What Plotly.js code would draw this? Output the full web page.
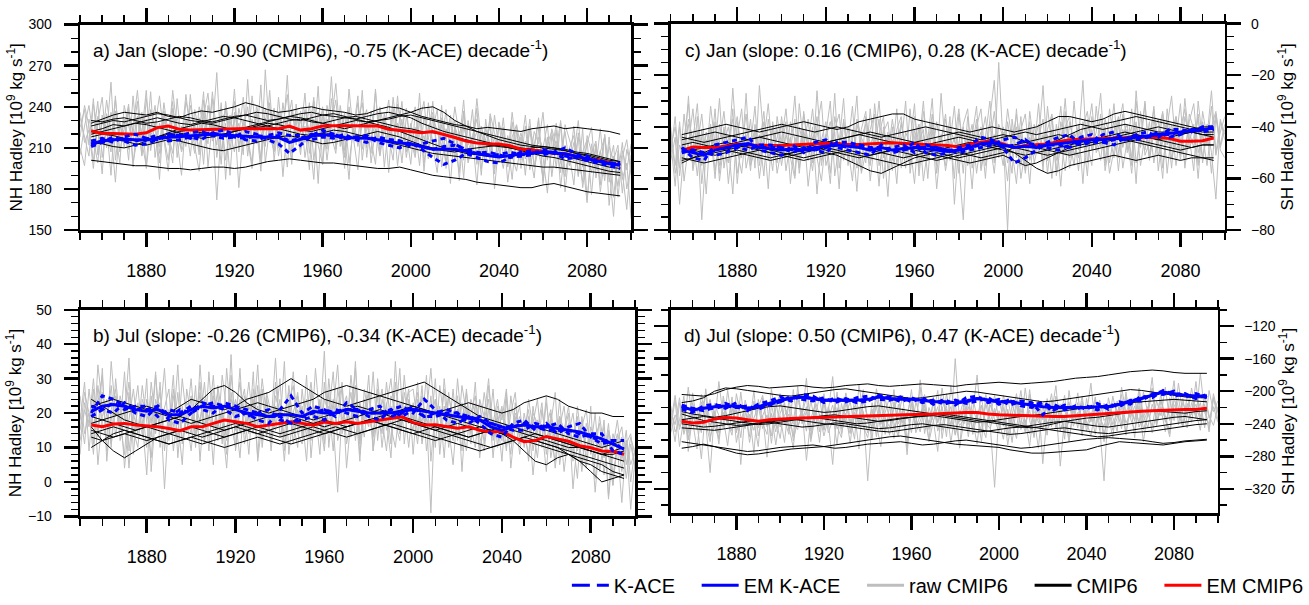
<!DOCTYPE html>
<html><head><meta charset="utf-8">
<script src="https://cdn.plot.ly/plotly-3.0.1.min.js"></script>
<style>html,body{margin:0;padding:0;background:#fff;}#chart{width:1309px;height:605px;}</style>
</head><body><div id="chart"></div>
<script>
// ---------- time axes ----------
const smoothStart = 1855, smoothStep = 5;   // 10-yr running means, 1855..2095
const rawStart = 1850, rawStep = 2;         // raw annual series (read every 2nd year), 1850..2100
const xTickLabels = [1880, 1920, 1960, 2000, 2040, 2080];

const panelTitles = [
  "a) Jan (slope: -0.90 (CMIP6), -0.75 (K-ACE) decade<sup>-1</sup>)",
  "b) Jul (slope: -0.26 (CMIP6), -0.34 (K-ACE) decade<sup>-1</sup>)",
  "c) Jan (slope: 0.16 (CMIP6), 0.28 (K-ACE) decade<sup>-1</sup>)",
  "d) Jul (slope: 0.50 (CMIP6), 0.47 (K-ACE) decade<sup>-1</sup>)"
];
const legendNames = ["K-ACE", "EM K-ACE", "raw CMIP6", "CMIP6", "EM CMIP6"];

// ---------- panel a : NH Hadley, Jan ----------
const aRaw1 = [225,238,212,246,205,230,219,258,201,227,214,240,196,233,221,252,208,229,187,236,217,244,203,226,211,
249,215,232,198,241,222,265,207,228,190,236,219,247,204,231,213,256,199,225,238,210,243,218,202,235,
221,250,206,231,184,240,216,262,209,227,195,237,223,248,201,229,214,253,205,232,192,239,220,244,207,
228,213,250,199,224,236,204,241,195,219,230,186,226,212,238,198,221,207,233,180,215,225,196,229,203,
218,190,226,209,232,184,213,222,195,228,178,210,219,189,224,172,206,215,183,220,168,201,212,177,209,195];
const aRaw2 = [210,197,231,218,244,203,226,190,237,215,229,201,248,212,235,195,224,241,206,230,218,199,246,213,227,
204,238,220,251,196,229,212,243,187,234,217,228,205,260,214,226,193,239,221,207,247,215,231,198,242,
209,226,194,244,218,233,201,228,245,211,236,199,224,213,252,203,230,217,240,196,227,209,248,214,221,
198,235,219,206,243,211,192,227,215,234,201,222,188,230,210,239,195,217,225,191,228,205,214,187,222,
201,226,194,211,230,186,218,204,223,181,212,199,226,190,207,216,176,211,197,219,185,204,190,214,180,198];
const aRaw3 = [232,219,204,242,223,191,235,211,248,207,226,242,199,219,236,214,251,203,228,216,193,239,222,209,244,
229,211,193,236,217,246,203,225,238,209,232,181,222,240,213,235,200,267,219,208,234,189,227,245,212,
237,203,224,214,255,198,231,219,206,241,218,187,233,211,227,238,199,224,210,235,218,201,242,226,213,
221,206,238,193,227,214,201,232,219,184,225,208,236,199,213,222,190,231,206,218,199,224,185,211,226,
195,215,206,188,224,203,177,219,208,230,192,205,183,221,201,170,213,194,208,186,218,174,203,192,165,205];
const aRaw4 = [218,241,226,200,233,214,245,222,185,229,210,237,221,244,205,231,212,226,248,218,201,234,215,190,231,
216,227,205,245,219,230,172,224,239,215,253,207,228,216,195,237,222,211,243,201,229,217,263,206,224,
213,232,219,187,236,223,209,246,214,229,203,240,217,194,235,222,206,251,213,228,219,236,197,224,239,
210,225,197,233,216,244,205,221,198,229,213,192,237,207,218,183,226,212,201,234,209,195,219,204,193,
214,202,224,196,209,187,217,206,228,199,189,210,200,218,181,205,192,213,178,202,196,160,208,187,199,158];
const aRaw5 = [205,226,241,217,199,234,222,207,245,218,231,209,226,252,214,197,238,225,211,243,220,206,233,217,249,
222,206,240,228,213,251,219,234,201,226,244,211,230,218,199,241,227,214,252,209,236,223,196,238,219,
230,214,243,201,226,238,212,229,257,218,204,235,221,243,209,227,216,198,239,224,211,247,219,231,203,
225,240,209,219,202,233,222,211,238,204,226,215,245,201,219,231,208,224,213,195,229,217,204,236,209,
221,205,231,196,218,210,227,189,215,206,222,197,214,203,185,219,207,196,224,190,211,201,182,208,194,213];
const aRaw6 = [236,214,223,195,229,247,210,236,221,199,241,226,215,233,204,246,219,227,199,237,212,252,224,207,219,
241,224,209,233,250,215,228,198,244,221,207,239,226,211,248,220,203,232,218,239,204,226,249,213,230,
205,238,221,247,212,198,241,225,217,232,208,253,219,230,243,210,237,222,204,226,245,212,228,199,233,
216,203,229,244,210,223,238,196,224,213,240,219,201,228,211,246,214,199,235,221,208,232,197,218,227,
210,234,199,222,213,236,201,224,212,192,227,215,205,230,196,213,225,188,207,218,197,212,174,203,216,190];

const aCmip1 = [228,231,234,236,235,234,236,233,232,235,237,236,238,240,243,241,238,236,237,239,240,238,237,236,234,235,238,240,239,236,233,231,229,227,226,224,225,224,223,222,224,225,226,224,225,224,223,222,220];
const aCmip2 = [230,229,231,232,230,228,229,231,233,232,230,229,231,233,234,232,230,231,233,235,236,234,233,232,231,233,235,236,234,232,228,225,222,220,218,216,214,212,211,210,209,208,207,205,204,202,200,199,197];
const aCmip3 = [222,224,227,226,228,230,232,230,228,227,229,231,233,232,230,228,226,228,230,231,229,228,230,232,233,231,229,227,225,224,222,221,220,218,216,214,212,211,210,209,210,211,210,208,206,205,203,201,200];
const aCmip4 = [218,220,219,217,215,216,218,220,222,223,221,219,220,222,224,226,228,227,225,223,222,224,226,228,230,229,227,225,222,219,216,213,210,208,206,205,204,203,204,205,206,207,206,204,202,200,198,196,195];
const aCmip5 = [212,214,216,215,213,212,214,216,215,213,211,209,208,210,212,214,216,218,219,217,215,213,214,216,218,220,222,220,218,215,212,210,208,207,209,210,211,212,210,208,206,204,203,201,199,197,195,193,192];
const aCmip6 = [215,213,211,210,212,215,218,221,224,226,228,227,225,223,225,227,229,231,233,232,230,228,226,224,226,228,230,231,233,234,232,230,228,226,224,222,220,218,216,214,212,211,210,209,207,206,204,202,200];
const aCmip7 = [220,222,224,226,228,227,225,223,221,219,217,218,220,222,224,225,226,224,222,220,219,221,223,222,220,218,216,214,212,210,208,206,205,204,203,202,201,200,199,198,197,196,196,195,194,193,192,191,190];
const aCmip8 = [201,200,199,198,197,197,196,195,195,194,195,196,196,195,196,198,200,201,202,201,200,199,199,198,197,196,195,195,196,194,192,190,189,188,187,185,184,183,182,181,181,183,184,182,180,178,177,176,175];
const aCmip9 = [226,228,230,229,231,233,235,234,232,230,229,228,230,232,234,236,235,233,231,230,232,234,235,233,231,229,230,232,234,236,239,240,236,230,226,222,219,216,214,212,211,210,209,208,206,204,202,200,198];
const aEmCmip = [222.4,220.5,220.5,220,220,221,224.8,226,223.6,223,223.3,223.6,224,224.3,224.2,224,224,224,226,223,224,226,226.2,226.4,226.2,226,226,223.6,222.8,222,221,222,220,217.6,215,213.5,213,212.8,211.6,209,208.5,207.6,206,205.7,203.8,202,201,199.2,197.3];
const aKace1 = [211,214,218,215,212,213,216,220,219,221,222,219,217,218,222,220,216,213,206,212,219,223,220,216,218,219,214,212,210,214,209,203,198,201,206,203,200,199,203,207,208,205,207,210,206,201,199,197,195];
const aKace2 = [215,217,214,218,220,217,219,215,216,218,216,221,223,220,216,215,219,221,219,219,216,218,217,220,216,214,218,216,215,211,213,215,217,213,208,206,207,205,203,204,205,209,206,202,203,204,200,199,198];
const aKace3 = [213,214,216,217,215,217,216,219,220,217,220,221,219,218,217,219,218,219,215,217,220,219,220,217,218,218,216,216,215,213,211,209,211,212,209,207,205,205,207,205,206,207,207,204,203,201,201,199,199];
const aEmKace = [212.8,215.2,216,216.4,216,215.7,217,217.6,218,218.8,219.5,220,219.5,218.8,218.5,218,217.8,217.6,214,216.4,218.5,220,219,217.6,217.2,217,216,214.7,213.5,212.8,211,209,209,209,207.5,205.7,204.5,203.3,204.5,205.7,206.5,206.9,206.5,205.7,204,202,200,198.5,197.3];

// ---------- panel b : NH Hadley, Jul ----------
const bRaw1 = [18,29,9,24,14,33,6,21,27,12,19,36,8,23,15,30,3,20,26,11,17,31,7,22,14,
25,10,34,16,22,5,28,19,13,37,9,21,27,14,32,6,18,24,11,29,16,35,8,20,26,
13,31,7,22,17,38,10,24,15,28,4,19,33,12,21,26,9,30,16,23,11,35,14,20,27,
8,24,17,31,6,21,13,27,10,19,25,3,22,15,29,9,18,24,7,20,12,26,4,17,22,
10,19,2,15,23,8,17,26,5,14,20,-2,12,18,6,22,1,11,16,-5,9,14,3,12,-8,7];
const bRaw2 = [12,21,16,27,5,19,24,10,30,17,8,26,13,22,18,2,25,14,29,9,21,16,34,11,19,
14,28,6,23,18,31,12,20,8,26,15,33,11,19,24,7,27,13,21,17,30,9,22,14,25,
19,6,27,14,23,11,30,17,-3,21,25,13,28,8,20,16,32,12,24,18,7,29,15,22,10,
23,14,28,9,19,24,12,30,16,5,21,18,26,11,23,7,19,14,27,10,21,16,8,23,13,
18,6,22,13,16,3,20,10,24,8,15,12,1,19,9,14,-3,13,7,17,2,10,-6,12,5,9];
const bRaw3 = [25,14,20,8,28,17,12,35,19,23,4,18,27,15,21,10,29,17,23,-2,20,14,26,12,18,
30,13,19,24,9,27,16,21,12,31,18,7,25,20,14,28,10,23,17,36,13,19,26,11,21,
16,24,12,33,18,9,26,14,21,29,11,18,23,6,27,19,14,25,10,22,30,17,12,26,19,
15,29,11,20,-9,24,18,13,26,16,21,9,27,14,18,23,11,28,15,19,6,24,13,20,16,
11,24,15,7,21,12,18,4,16,22,9,13,19,5,15,10,20,3,13,8,-1,11,6,15,0,10];
const bRaw4 = [8,23,17,30,13,26,19,11,22,16,32,9,20,14,28,18,7,24,19,33,12,25,18,5,27,
19,14,26,11,32,15,23,17,4,24,20,29,14,22,18,34,12,25,9,22,19,13,28,17,10,
27,15,21,19,13,24,20,32,12,17,23,16,35,11,24,20,13,27,18,9,25,21,14,31,17,
20,11,25,18,16,30,8,22,14,27,12,23,16,20,25,13,9,21,17,24,14,10,20,26,11,
15,21,9,18,12,25,7,14,19,10,17,6,22,11,4,16,12,8,18,-4,14,9,13,1,11,4];
const bRaw5 = [20,11,27,16,23,31,9,18,25,15,22,4,19,28,13,24,17,32,10,21,15,27,12,30,18,
9,23,17,29,13,20,26,11,33,18,24,14,21,8,27,16,30,19,12,25,20,6,23,28,15,
22,13,25,20,8,29,16,21,34,14,19,26,12,23,17,31,9,20,27,15,22,18,33,11,24,
18,26,12,20,33,15,22,7,25,18,13,28,20,16,10,24,19,30,12,17,22,9,25,15,19,
14,8,20,17,11,23,13,6,19,15,22,9,14,3,17,12,7,19,10,14,-1,12,16,5,13,8];
const bRaw6 = [15,26,20,11,34,22,16,28,13,25,19,29,15,10,24,20,13,31,16,22,27,9,20,17,23,
21,16,29,12,19,25,14,31,21,17,10,24,19,29,16,22,13,26,20,15,24,11,19,32,14,
11,20,29,17,24,14,22,9,27,19,15,31,18,22,13,26,17,21,14,29,16,10,23,19,26,
27,17,21,14,25,10,28,18,21,12,30,16,9,24,20,14,26,17,13,22,18,27,11,19,8,
20,13,17,24,10,16,21,12,18,3,14,20,9,16,21,8,13,17,2,15,10,18,7,11,14,3];

const bCmip1 = [17,18,19,20,21,22,21,20,22,24,23,22,21,22,24,25,26,28,30,28,26,24,23,22,23,24,25,24,23,22,21,20,19,18,17,16,15,14,13,12,12,11,10,9,8,7,6,5,4];
const bCmip2 = [15,14,13,14,15,16,17,18,19,21,24,27,28,26,23,21,20,21,22,23,24,26,27,28,27,26,25,26,27,28,29,27,25,23,21,19,18,17,16,15,14,13,12,11,10,9,8,8,9];
const bCmip3 = [13,12,13,14,13,12,13,14,15,16,15,14,13,14,15,16,15,14,15,16,17,18,17,16,17,18,19,20,21,22,21,20,21,22,23,22,21,20,21,23,24,25,24,22,21,20,20,19,19];
const bCmip4 = [24,22,20,18,17,16,15,14,13,12,11,12,13,14,15,14,13,12,11,12,13,14,15,16,17,18,17,16,15,14,13,12,13,14,15,16,15,14,13,12,11,10,9,8,6,5,3,2,1];
const bCmip5 = [16,12,9,7,9,11,13,14,15,14,13,14,15,16,15,14,15,16,17,16,15,14,15,16,17,18,17,16,15,14,15,16,15,14,13,14,15,14,12,9,6,5,7,8,7,6,5,3,2];
const bCmip6 = [10,12,14,15,14,13,12,11,12,13,12,11,10,11,12,13,12,11,12,13,14,15,16,15,14,15,16,17,18,17,16,15,14,13,12,11,10,11,12,13,12,11,10,8,6,3,0,1,2];
const bCmip7 = [19,18,17,16,15,16,17,18,19,18,17,16,15,16,17,18,19,20,19,18,17,16,17,18,19,20,21,20,19,18,17,16,15,14,13,14,15,16,15,14,13,12,11,10,10,9,8,9,10];
const bCmip8 = [14,15,16,15,14,13,12,11,12,13,14,15,16,17,16,15,14,13,14,15,16,15,14,13,14,15,16,17,16,15,14,13,12,11,10,9,10,11,12,13,14,13,12,11,10,9,8,7,6];
const bCmip9 = [22,23,24,23,22,21,20,19,18,17,18,19,20,21,22,23,22,21,20,19,18,19,20,21,22,21,20,19,18,17,16,15,16,17,16,15,14,15,16,17,16,15,14,13,12,11,10,11,12];
const bEmCmip = [16.5,16,16.8,17,16.5,16.3,16,15.5,14.9,16,16,17,18,17.5,17,16,16.5,17,17.5,17,16.5,17.4,17,17.5,17,17.5,18,18.5,18.9,17.2,16.5,16.6,16,15.6,16,15,14.5,14.7,13,11.7,12,13.2,12.5,11.8,10.5,9.9,9,8.9,8];
const bKace1 = [20,25,24,22,20,19,22,18,17,20,23,22,21,19,20,18,17,21,25,20,22,21,19,23,21,19,18,21,22,20,24,21,18,17,19,17,14,13,17,18,15,17,14,16,17,13,11,12,12];
const bKace2 = [22,21,23,21,22,22,19,21,20,22,21,20,23,22,19,20,21,18,17,18,19,18,21,20,19,21,22,19,20,22,19,20,21,20,17,19,17,16,15,15,17,16,17,14,13,14,14,9,8];
const bKace3 = [19,21,20,23,21,21,22,19,21,20,22,23,22,22,21,20,19,19,17,19,20,21,20,21,21,20,20,21,19,21,19,19,20,20,19,18,17,16,16,17,16,15,15,15,14,13,12,12,9];
const bEmKace = [20.5,22,22.5,22,21,20.5,21,19.5,19.5,21,22,21.5,22,21,20,19.5,19,19.5,19.5,19,20.5,20,20,21,20.5,20,20,20,20.5,21,20.5,20,19.5,19,18.5,18,16,15,16,16.5,16,16,15.5,15,14.5,13.5,12.5,11,9.5];

// ---------- panel c : SH Hadley, Jan ----------
const cRaw1 = [-42,-55,-38,-61,-47,-33,-52,-44,-66,-40,-49,-29,-56,-45,-37,-58,-48,-35,-53,-42,-60,-46,-31,-51,-44,
-39,-57,-46,-28,-53,-41,-63,-48,-36,-55,-43,-30,-59,-47,-38,-52,-45,-65,-41,-34,-54,-48,-37,-60,-44,
-50,-33,-56,-42,-47,-62,-39,-53,-45,-29,-58,-44,-51,-36,-70,-46,-40,-55,-43,-32,-57,-48,-38,-54,-15,
-47,-61,-41,-52,-36,-58,-44,-49,-31,-55,-43,-60,-39,-50,-34,-56,-45,-40,-62,-37,-48,-42,-27,-53,-44,
-38,-57,-41,-49,-33,-54,-45,-30,-52,-40,-47,-35,-58,-42,-36,-51,-29,-46,-39,-55,-34,-44,-26,-50,-38,-43];
const cRaw2 = [-50,-36,-59,-45,-31,-54,-42,-76,-48,-39,-57,-46,-34,-51,-25,-49,-58,-41,-47,-32,-55,-43,-64,-38,-50,
-45,-33,-52,-60,-40,-48,-37,-54,-26,-50,-43,-58,-41,-35,-53,-47,-32,-56,-44,-39,-61,-46,-30,-52,-42,
-57,-41,-36,-52,-46,-31,-59,-43,-49,-38,-55,-27,-48,-42,-60,-35,-51,-45,-64,-40,-33,-53,-46,-58,-39,
-44,-80,-37,-50,-42,-56,-34,-48,-45,-24,-53,-41,-57,-38,-46,-52,-30,-49,-43,-59,-36,-47,-40,-55,-33,
-46,-52,-35,-44,-58,-39,-48,-31,-53,-42,-37,-56,-40,-28,-49,-45,-54,-35,-41,-60,-38,-47,-32,-51,-42,-36];
const cRaw3 = [-46,-63,-40,-51,-28,-57,-47,-35,-53,-43,-60,-39,-48,-54,-33,-62,-44,-50,-37,-56,-24,-45,-52,-40,-58,
-48,-38,-62,-44,-51,-35,-46,-57,-40,-30,-55,-49,-42,-64,-37,-52,-45,-28,-58,-50,-41,-35,-55,-47,-67,
-40,-54,-47,-30,-58,-44,-39,-61,-48,-35,-52,-43,-57,-46,-32,-54,-76,-41,-49,-37,-56,-44,-30,-50,-45,
-55,-38,-49,-62,-41,-35,-53,-46,-39,-57,-32,-48,-44,-63,-40,-36,-51,-45,-22,-54,-41,-49,-35,-57,-46,
-31,-50,-43,-39,-55,-26,-47,-41,-52,-37,-45,-60,-33,-48,-40,-53,-36,-44,-57,-30,-46,-39,-50,-68,-37,-45];
const cRaw4 = [-53,-44,-70,-48,-39,-56,-36,-62,-45,-51,-33,-58,-41,-47,-66,-38,-52,-27,-55,-49,-43,-59,-37,-48,-54,
-36,-50,-44,-59,-31,-47,-53,-40,-66,-45,-38,-51,-27,-56,-44,-48,-61,-39,-46,-54,-33,-50,-43,-36,-57,
-45,-62,-38,-49,-55,-36,-47,-30,-53,-41,-64,-46,-37,-50,-44,-58,-39,-33,-56,-47,-42,-60,-37,-22,-52,
-40,-47,-58,-33,-55,-44,-62,-39,-50,-43,-53,-36,-59,-47,-29,-52,-42,-57,-38,-46,-55,-32,-48,-41,-58,
-49,-37,-56,-45,-40,-62,-34,-51,-46,-33,-57,-43,-38,-52,-45,-31,-56,-42,-48,-35,-54,-41,-58,-36,-49,-52];
const cRaw5 = [-48,-40,-56,-35,-51,-44,-59,-41,-53,-32,-47,-55,-40,-62,-45,-36,-50,-43,-57,-39,-48,-34,-53,-46,-41,
-55,-43,-49,-37,-58,-42,-47,-33,-52,-61,-44,-38,-50,-46,-29,-55,-41,-49,-57,-36,-47,-43,-63,-40,-51,
-37,-49,-44,-56,-33,-51,-46,-41,-60,-38,-49,-45,-35,-53,-48,-42,-58,-36,-51,-44,-40,-55,-47,-34,-50,
-42,-54,-46,-35,-49,-57,-40,-51,-44,-37,-58,-43,-48,-32,-51,-45,-55,-39,-47,-43,-31,-50,-46,-40,-54,
-43,-36,-48,-41,-52,-30,-45,-49,-38,-54,-42,-34,-47,-39,-55,-41,-33,-48,-44,-37,-52,-40,-45,-35,-48,-41];
const cRaw6 = [-40,-58,-47,-52,-37,-45,-31,-55,-42,-49,-38,-61,-46,-40,-51,-44,-33,-56,-47,-41,-52,-38,-45,-57,-36,
-47,-52,-38,-45,-56,-34,-50,-44,-41,-53,-47,-62,-36,-45,-52,-40,-54,-37,-44,-49,-55,-31,-48,-42,-38,
-53,-46,-39,-47,-52,-41,-56,-34,-45,-51,-38,-48,-55,-40,-46,-33,-50,-47,-39,-58,-45,-36,-52,-43,-48,
-51,-33,-45,-40,-60,-48,-38,-54,-46,-50,-41,-35,-53,-44,-57,-38,-46,-52,-40,-34,-49,-44,-53,-37,-43,
-52,-40,-31,-50,-45,-38,-55,-43,-47,-32,-51,-46,-39,-56,-36,-45,-49,-38,-31,-50,-43,-55,-40,-34,-47,-39];

const cCmip1 = [-43,-42,-41,-40,-39,-40,-41,-42,-41,-40,-39,-38,-39,-40,-41,-40,-38,-37,-36,-35,-35,-37,-38,-39,-40,-41,-42,-41,-40,-41,-42,-41,-40,-38,-36,-36,-37,-38,-37,-35,-34,-35,-36,-37,-38,-39,-40,-41,-41];
const cCmip2 = [-53,-52,-51,-50,-49,-48,-47,-48,-49,-50,-51,-52,-51,-50,-51,-53,-55,-57,-58,-56,-54,-52,-51,-50,-51,-52,-51,-50,-49,-48,-50,-53,-56,-58,-57,-55,-54,-53,-52,-51,-52,-53,-52,-51,-52,-53,-52,-52,-52];
const cCmip3 = [-45,-44,-43,-42,-43,-44,-45,-44,-43,-42,-43,-44,-45,-46,-45,-44,-43,-44,-45,-46,-47,-46,-45,-44,-43,-42,-43,-44,-45,-44,-43,-42,-43,-42,-41,-40,-39,-40,-41,-40,-39,-40,-41,-42,-42,-43,-42,-43,-43];
const cCmip4 = [-48,-49,-50,-51,-50,-49,-50,-51,-52,-51,-50,-49,-48,-49,-50,-51,-52,-51,-50,-49,-50,-51,-52,-53,-52,-51,-50,-49,-48,-47,-48,-49,-50,-51,-50,-49,-48,-47,-46,-45,-44,-43,-44,-45,-46,-47,-48,-47,-47];
const cCmip5 = [-52,-53,-54,-53,-52,-51,-50,-49,-50,-51,-52,-53,-52,-51,-50,-49,-50,-51,-50,-49,-48,-49,-50,-51,-52,-53,-54,-53,-52,-51,-53,-55,-54,-52,-50,-48,-47,-46,-45,-44,-45,-46,-47,-48,-49,-50,-51,-52,-53];
const cCmip6 = [-44,-45,-46,-45,-44,-43,-42,-41,-40,-39,-40,-41,-42,-41,-40,-41,-42,-43,-44,-43,-42,-41,-40,-41,-42,-43,-44,-45,-44,-43,-44,-46,-48,-47,-45,-43,-41,-40,-39,-38,-37,-36,-37,-38,-39,-40,-41,-42,-42];
const cCmip7 = [-50,-49,-48,-47,-46,-47,-48,-49,-50,-51,-50,-49,-48,-47,-46,-47,-48,-49,-50,-51,-52,-51,-50,-49,-48,-47,-46,-47,-48,-49,-50,-51,-50,-49,-48,-47,-46,-45,-44,-43,-42,-43,-44,-45,-44,-43,-42,-43,-44];
const cCmip8 = [-47,-46,-47,-48,-47,-46,-45,-44,-45,-46,-47,-48,-47,-46,-45,-44,-43,-42,-43,-44,-45,-46,-47,-46,-45,-44,-45,-46,-47,-48,-47,-46,-45,-44,-43,-44,-45,-46,-45,-44,-43,-42,-41,-40,-41,-42,-41,-40,-40];
const cCmip9 = [-54,-52,-50,-48,-49,-50,-51,-52,-53,-52,-51,-50,-49,-48,-49,-50,-51,-52,-53,-54,-55,-54,-53,-52,-51,-50,-51,-52,-51,-50,-48,-47,-48,-49,-50,-51,-50,-49,-48,-47,-46,-45,-46,-47,-48,-49,-48,-47,-47];
const cEmCmip = [-49.1,-47.8,-48,-48,-47.5,-46.6,-47,-47.2,-47.2,-47.2,-47,-46.8,-46.5,-46.3,-46.5,-46.8,-46.8,-46.5,-46.3,-46.2,-46.5,-46.6,-46.8,-47,-47.2,-47.8,-46.6,-46,-45.3,-46.6,-48,-47.2,-47,-46.6,-45.8,-45,-44.8,-44.7,-44.5,-44.3,-44.2,-44,-44,-44,-44.5,-45.6,-45.6,-45.4,-44.3];
const cKace1 = [-48,-52,-53,-47,-46,-45,-44,-49,-50,-51,-47,-50,-46,-45,-48,-49,-50,-51,-47,-50,-49,-46,-50,-51,-50,-48,-47,-44,-45,-48,-54,-52,-49,-46,-44,-43,-47,-46,-43,-42,-45,-43,-42,-44,-41,-41,-42,-40,-40];
const cKace2 = [-50,-49,-50,-51,-50,-48,-49,-47,-47,-48,-50,-48,-49,-50,-46,-46,-47,-48,-49,-48,-47,-50,-47,-48,-49,-50,-49,-48,-47,-45,-44,-46,-47,-48,-49,-47,-44,-43,-46,-47,-44,-45,-44,-42,-44,-43,-41,-42,-41];
const cKace3 = [-49,-49,-50,-49,-48,-48,-47,-48,-48,-48,-49,-49,-49,-48,-47,-48,-47,-48,-48,-49,-49,-48,-48,-48,-49,-49,-48,-47,-46,-48,-47,-45,-48,-47,-47,-48,-46,-46,-46,-45,-45,-44,-44,-43,-43,-42,-41,-41,-40];
const cEmKace = [-49,-50,-51,-49,-48,-47,-46.5,-48,-48.5,-49,-48.5,-49,-48,-47.5,-47,-47.5,-48,-49,-48,-49,-48.5,-48,-48.5,-49,-49.5,-49,-48,-46.5,-46,-47,-48,-47.5,-48,-47,-46.5,-46,-45.5,-45,-45,-44.5,-44.5,-44,-43.5,-43,-42.5,-42,-41.5,-41,-40.5];

// ---------- panel d : SH Hadley, Jul ----------
const dRaw1 = [-230,-262,-214,-248,-195,-237,-271,-222,-205,-256,-240,-188,-233,-267,-219,-251,-201,-244,-228,-276,-210,-239,-253,-197,-235,
-258,-216,-242,-270,-207,-231,-184,-249,-225,-263,-212,-238,-290,-220,-246,-203,-234,-259,-192,-228,-251,-214,-241,-268,-209,
-236,-198,-252,-223,-278,-215,-244,-186,-231,-260,-207,-239,-219,-256,-193,-233,-268,-212,-247,-226,-180,-241,-257,-210,-235,
-250,-205,-228,-263,-217,-242,-196,-236,-255,-211,-289,-230,-203,-246,-221,-259,-199,-237,-214,-251,-228,-190,-243,-219,-262,
-208,-232,-249,-195,-226,-214,-257,-201,-238,-223,-183,-241,-212,-230,-252,-197,-221,-244,-205,-229,-188,-236,-216,-250,-203,-227];
const dRaw2 = [-245,-211,-268,-233,-251,-202,-239,-283,-218,-244,-227,-259,-206,-236,-249,-214,-290,-225,-241,-199,-255,-230,-216,-264,-221,
-203,-241,-228,-256,-194,-237,-219,-262,-231,-206,-248,-225,-182,-243,-257,-213,-239,-226,-271,-208,-232,-245,-197,-229,-253,
-218,-247,-231,-205,-262,-226,-240,-195,-252,-220,-236,-274,-211,-229,-245,-160,-238,-221,-256,-207,-233,-249,-215,-242,-318,
-224,-243,-209,-237,-258,-221,-246,-204,-232,-270,-215,-240,-227,-193,-249,-230,-262,-217,-235,-206,-244,-226,-253,-211,-236,
-229,-257,-212,-240,-201,-233,-248,-218,-262,-225,-196,-239,-221,-250,-208,-236,-190,-228,-245,-214,-233,-178,-226,-241,-207,-235];
const dRaw3 = [-218,-250,-236,-206,-274,-228,-245,-213,-239,-300,-224,-251,-219,-242,-207,-263,-235,-222,-256,-212,-245,-230,-281,-216,-243,
-231,-263,-210,-239,-247,-221,-285,-234,-216,-250,-203,-242,-228,-266,-215,-238,-252,-209,-244,-225,-310,-237,-219,-248,-232,
-254,-213,-240,-226,-269,-208,-233,-250,-217,-245,-230,-199,-258,-222,-241,-212,-270,-235,-219,-246,-228,-262,-204,-237,-221,
-241,-214,-255,-229,-203,-247,-235,-268,-218,-239,-226,-254,-211,-244,-232,-205,-261,-224,-240,-215,-249,-232,-207,-243,-310,
-217,-241,-228,-204,-252,-222,-236,-211,-247,-230,-198,-243,-219,-234,-256,-209,-227,-244,-215,-238,-201,-231,-220,-247,-210,-224];
const dRaw4 = [-238,-205,-247,-226,-259,-214,-235,-251,-197,-242,-229,-265,-211,-238,-254,-203,-231,-246,-219,-237,-268,-208,-244,-227,-250,
-215,-236,-253,-198,-243,-229,-207,-258,-224,-239,-213,-251,-236,-201,-245,-227,-264,-218,-240,-212,-233,-259,-206,-241,-226,
-207,-239,-256,-221,-234,-198,-245,-228,-214,-262,-237,-219,-248,-203,-231,-253,-224,-240,-210,-236,-265,-217,-242,-229,-205,
-236,-259,-222,-245,-211,-233,-250,-198,-241,-227,-215,-248,-236,-220,-292,-231,-213,-243,-226,-255,-209,-236,-221,-248,-215,
-242,-206,-231,-220,-254,-213,-237,-196,-229,-245,-216,-233,-203,-238,-222,-187,-241,-214,-230,-196,-226,-248,-205,-233,-219,-238];
const dRaw5 = [-225,-241,-208,-253,-232,-219,-247,-204,-238,-262,-215,-229,-245,-199,-236,-223,-257,-211,-233,-248,-220,-205,-242,-228,-266,
-227,-214,-249,-236,-203,-240,-225,-258,-212,-231,-247,-219,-236,-205,-252,-228,-213,-245,-232,-198,-238,-222,-256,-210,-234,
-244,-221,-208,-239,-226,-251,-213,-232,-204,-247,-225,-238,-196,-233,-219,-254,-229,-210,-241,-223,-235,-206,-248,-217,-230,
-209,-236,-248,-217,-232,-199,-241,-223,-257,-212,-235,-220,-244,-206,-229,-250,-215,-233,-202,-247,-219,-238,-211,-226,-252,
-233,-215,-224,-246,-207,-232,-218,-239,-201,-227,-243,-212,-230,-195,-236,-219,-208,-241,-222,-204,-231,-214,-245,-199,-225,-212];
const dRaw6 = [-251,-229,-243,-216,-260,-235,-222,-248,-231,-210,-244,-257,-226,-240,-213,-249,-237,-220,-263,-233,-218,-246,-229,-255,-212,
-244,-230,-218,-261,-236,-223,-249,-211,-240,-228,-255,-234,-217,-246,-239,-202,-250,-231,-219,-243,-257,-225,-236,-214,-247,
-232,-258,-216,-244,-229,-207,-251,-236,-222,-240,-213,-249,-231,-218,-263,-226,-242,-235,-209,-253,-230,-217,-239,-246,-224,
-237,-220,-266,-231,-244,-213,-239,-252,-225,-233,-247,-209,-240,-228,-216,-251,-236,-222,-245,-212,-238,-255,-221,-234,-243,
-221,-248,-233,-213,-239,-228,-208,-244,-231,-219,-251,-226,-211,-236,-247,-222,-233,-209,-240,-226,-216,-237,-205,-230,-242,-219];

const dCmip1 = [-204,-205,-206,-203,-198,-195,-193,-194,-196,-195,-194,-193,-195,-196,-195,-193,-192,-191,-193,-194,-193,-192,-191,-192,-193,-194,-192,-191,-190,-189,-190,-191,-190,-189,-188,-186,-184,-183,-182,-180,-178,-176,-175,-174,-175,-177,-178,-178,-178];
const dCmip2 = [-214,-212,-208,-200,-196,-197,-199,-201,-203,-205,-206,-204,-202,-200,-198,-197,-199,-201,-203,-205,-207,-209,-208,-206,-204,-202,-200,-201,-203,-205,-207,-209,-211,-213,-212,-210,-208,-206,-204,-202,-200,-198,-199,-201,-203,-205,-207,-208,-208];
const dCmip3 = [-225,-228,-230,-232,-230,-227,-224,-221,-219,-218,-220,-222,-224,-226,-225,-223,-221,-219,-218,-220,-222,-224,-226,-228,-230,-232,-234,-236,-238,-240,-242,-244,-245,-243,-240,-237,-235,-233,-232,-230,-228,-226,-225,-224,-225,-226,-227,-225,-224];
const dCmip4 = [-240,-242,-244,-243,-241,-239,-237,-236,-238,-240,-242,-244,-243,-241,-239,-240,-242,-244,-246,-245,-243,-241,-240,-242,-244,-246,-248,-250,-249,-247,-245,-244,-242,-240,-238,-237,-239,-241,-243,-244,-242,-240,-238,-236,-234,-232,-231,-233,-235];
const dCmip5 = [-235,-233,-231,-233,-235,-237,-239,-241,-240,-238,-236,-234,-232,-230,-229,-231,-233,-235,-237,-236,-234,-232,-230,-229,-228,-230,-232,-234,-236,-238,-240,-242,-244,-246,-248,-250,-252,-254,-256,-255,-253,-251,-250,-249,-247,-245,-243,-241,-240];
const dCmip6 = [-270,-268,-265,-268,-272,-276,-278,-277,-275,-273,-271,-270,-269,-268,-266,-264,-262,-260,-258,-256,-255,-257,-259,-261,-263,-265,-266,-267,-268,-269,-272,-274,-276,-276,-275,-274,-273,-272,-268,-265,-262,-263,-264,-265,-266,-264,-262,-261,-260];
const dCmip7 = [-262,-264,-266,-268,-270,-272,-274,-273,-271,-269,-268,-267,-266,-268,-270,-269,-267,-265,-264,-263,-262,-264,-266,-265,-263,-261,-260,-262,-264,-266,-268,-270,-269,-267,-265,-263,-261,-259,-258,-257,-258,-259,-260,-262,-264,-263,-261,-260,-259];
const dCmip8 = [-245,-246,-247,-248,-246,-244,-242,-240,-238,-236,-235,-233,-232,-234,-236,-238,-240,-239,-237,-235,-233,-232,-231,-230,-232,-234,-236,-238,-237,-235,-233,-231,-230,-228,-226,-224,-222,-220,-219,-218,-216,-214,-213,-212,-211,-210,-211,-212,-213];
const dCmip9 = [-228,-232,-236,-238,-240,-242,-241,-239,-237,-235,-234,-236,-238,-240,-241,-243,-245,-247,-249,-250,-248,-246,-244,-242,-241,-243,-245,-247,-249,-251,-253,-252,-250,-248,-246,-245,-247,-249,-251,-252,-250,-248,-246,-244,-242,-240,-238,-236,-235];
const dEmCmip = [-237,-239,-238,-234,-232.4,-233,-235,-237,-235,-234,-233.5,-233,-232.5,-232,-231.5,-231,-230.8,-230.4,-229.7,-229,-228.7,-228.4,-228.2,-228,-227.2,-226.4,-226.2,-226,-228,-229,-229.5,-230,-230.5,-231,-231,-231,-230,-229,-228,-227,-226,-225,-224.5,-224,-223.2,-222.4,-222.4,-222.4,-221];
const dKace1 = [-222,-226,-218,-216,-221,-214,-224,-216,-212,-207,-212,-204,-206,-214,-208,-213,-208,-206,-210,-211,-207,-213,-208,-216,-210,-217,-208,-206,-214,-210,-217,-212,-214,-229,-216,-223,-218,-222,-215,-222,-213,-216,-206,-208,-199,-206,-203,-209,-204];
const dKace2 = [-217,-221,-224,-220,-215,-220,-218,-222,-217,-213,-206,-210,-212,-208,-214,-209,-214,-212,-205,-207,-213,-208,-214,-211,-216,-211,-215,-212,-208,-216,-210,-218,-220,-214,-223,-217,-222,-218,-223,-216,-219,-211,-212,-203,-204,-200,-207,-203,-208];
const dKace3 = [-219,-222,-221,-221,-218,-220,-221,-219,-216,-213,-209,-207,-209,-211,-211,-211,-211,-212,-206,-209,-210,-209,-211,-212,-213,-214,-213,-209,-211,-213,-212,-215,-217,-214,-221,-220,-220,-220,-219,-219,-216,-212,-209,-204,-200,-203,-205,-206,-206];
const dEmKace = [-219,-223,-221,-219,-218,-218,-221,-219,-215,-211,-209,-207,-209,-211,-211,-211,-211,-210,-207,-209,-210,-210,-211,-213,-213,-214,-212,-209,-211,-213,-213,-215,-217,-219,-220,-220,-220,-220,-219,-219,-216,-213,-209,-205,-201,-203,-205,-206,-206];

// ---------- build ----------
const FONT = "Liberation Sans, Arial, Helvetica, sans-serif";
const GRAY = "#bebebe", BLUE = "#0000ff", RED = "#ff0000";
function years(arr, start, step) { return arr.map((_, i) => start + step * i); }

const panels = [
  {raw:[aRaw1,aRaw2,aRaw3,aRaw4,aRaw5,aRaw6], cmip:[aCmip1,aCmip2,aCmip3,aCmip4,aCmip5,aCmip6,aCmip7,aCmip8,aCmip9], em:aEmCmip, kace:[aKace1,aKace2,aKace3], emk:aEmKace, xa:"x", ya:"y"},
  {raw:[bRaw1,bRaw2,bRaw3,bRaw4,bRaw5,bRaw6], cmip:[bCmip1,bCmip2,bCmip3,bCmip4,bCmip5,bCmip6,bCmip7,bCmip8,bCmip9], em:bEmCmip, kace:[bKace1,bKace2,bKace3], emk:bEmKace, xa:"x2", ya:"y2"},
  {raw:[cRaw1,cRaw2,cRaw3,cRaw4,cRaw5,cRaw6], cmip:[cCmip1,cCmip2,cCmip3,cCmip4,cCmip5,cCmip6,cCmip7,cCmip8,cCmip9], em:cEmCmip, kace:[cKace1,cKace2,cKace3], emk:cEmKace, xa:"x3", ya:"y3"},
  {raw:[dRaw1,dRaw2,dRaw3,dRaw4,dRaw5,dRaw6], cmip:[dCmip1,dCmip2,dCmip3,dCmip4,dCmip5,dCmip6,dCmip7,dCmip8,dCmip9], em:dEmCmip, kace:[dKace1,dKace2,dKace3], emk:dEmKace, xa:"x4", ya:"y4"}
];

const traces = [];
panels.forEach(p => {
  const base = {type:"scatter", mode:"lines", xaxis:p.xa, yaxis:p.ya, showlegend:false, hoverinfo:"skip"};
  p.raw.forEach(r => traces.push(Object.assign({}, base, {x:years(r, rawStart, rawStep), y:r, line:{color:GRAY, width:1}})));
  p.cmip.forEach(r => traces.push(Object.assign({}, base, {x:years(r, smoothStart, smoothStep), y:r, line:{color:"#000", width:1}})));
  traces.push(Object.assign({}, base, {x:years(p.em, smoothStart, smoothStep), y:p.em, line:{color:RED, width:3}}));
  p.kace.forEach(r => traces.push(Object.assign({}, base, {x:years(r, smoothStart, smoothStep), y:r, line:{color:BLUE, width:3, dash:"5px,4px"}})));
  traces.push(Object.assign({}, base, {x:years(p.emk, smoothStart, smoothStep), y:p.emk, line:{color:BLUE, width:3}}));
});
// legend entries (styles only; no data)
const legStyles = [
  {color:BLUE, width:3, dash:"18px,7px"},
  {color:BLUE, width:3},
  {color:GRAY, width:3},
  {color:"#000", width:3},
  {color:RED, width:3}
];
const NB = "\u00a0\u00a0\u00a0";
legendNames.forEach((n, i) => traces.push({type:"scatter", mode:"lines", x:[null], y:[null], xaxis:"x", yaxis:"y",
  name:(i < legendNames.length - 1 ? n + NB : n), showlegend:true, line:legStyles[i], hoverinfo:"skip"}));

function xAxis(d0, d1, anchor) {
  return {domain:[d0/1309, d1/1309], anchor:anchor, range:[1850, 2100], tickmode:"array", tickvals:xTickLabels,
    ticktext:xTickLabels.map(String),
    ticks:"outside", ticklen:14, tickwidth:2.5, tickcolor:"#000", showline:true, linewidth:2.5, linecolor:"#000",
    mirror:"ticks", showgrid:false, zeroline:false, automargin:false, ticklabelstandoff:9,
    tickfont:{family:FONT, size:18, color:"#000"},
    minor:{ticks:"outside", tick0:1850, dtick:10, ticklen:7, tickwidth:1.5, tickcolor:"#000", showgrid:false}};
}
function yAxis(top, bot, anchor, range, tick0, dtick, mdtick, side, title) {
  return {domain:[1-bot/605, 1-top/605], anchor:anchor, range:range, tick0:tick0, dtick:dtick, side:side,
    ticks:"outside", ticklen:14, tickwidth:2.5, tickcolor:"#000", showline:true, linewidth:2.5, linecolor:"#000",
    mirror:"ticks", showgrid:false, zeroline:false, automargin:false, ticklabelstandoff:side==="left"?9:7,
    tickfont:{family:FONT, size:14, color:"#000"},
    title:{text:title, font:{family:FONT, size:17, color:"#000"}, standoff:side==="left"?2:5},
    minor:{ticks:"outside", tick0:tick0, dtick:mdtick, ticklen:7, tickwidth:1.5, tickcolor:"#000", showgrid:false}};
}
const nhTitle = "NH Hadley [10<sup>9</sup> kg s<sup>-1</sup>]";
const shTitle = "SH Hadley [10<sup>9</sup> kg s<sup>-1</sup>]";

const annX = [92, 92, 690, 689], annY = [50, 340, 50, 340];
const annotations = panelTitles.map((t, i) => ({
  text:t, xref:"paper", yref:"paper", x:annX[i]/1309, y:1-annY[i]/605,
  xanchor:"left", yanchor:"middle", showarrow:false, font:{family:FONT, size:19, color:"#000"}
}));

const layout = {
  width:1309, height:605, margin:{l:0, r:0, t:0, b:0}, paper_bgcolor:"#fff", plot_bgcolor:"#fff",
  font:{family:FONT, color:"#000"},
  xaxis:xAxis(81, 638, "y"),
  xaxis2:xAxis(81, 642, "y2"),
  xaxis3:xAxis(678, 1238, "y3"),
  xaxis4:xAxis(678, 1231, "y4"),
  yaxis:yAxis(25, 234, "x", [150, 300], 150, 30, 10, "left", nhTitle),
  yaxis2:yAxis(315, 525, "x2", [-10, 50], -10, 10, 2, "left", nhTitle),
  yaxis3:yAxis(24, 234, "x3", [-80, 0], -80, 20, 5, "right", shTitle),
  yaxis4:yAxis(315, 522, "x4", [-350, -100], -120, 40, 20, "right", shTitle),
  showlegend:true,
  legend:{orientation:"h", x:573/1309, xanchor:"left", y:1-595/605, yanchor:"middle",
    font:{family:FONT, size:20, color:"#000"}, bgcolor:"rgba(0,0,0,0)", itemwidth:37, traceorder:"normal"},
  annotations:annotations
};

Plotly.newPlot("chart", traces, layout, {staticPlot:true, displayModeBar:false});
</script></body></html>
